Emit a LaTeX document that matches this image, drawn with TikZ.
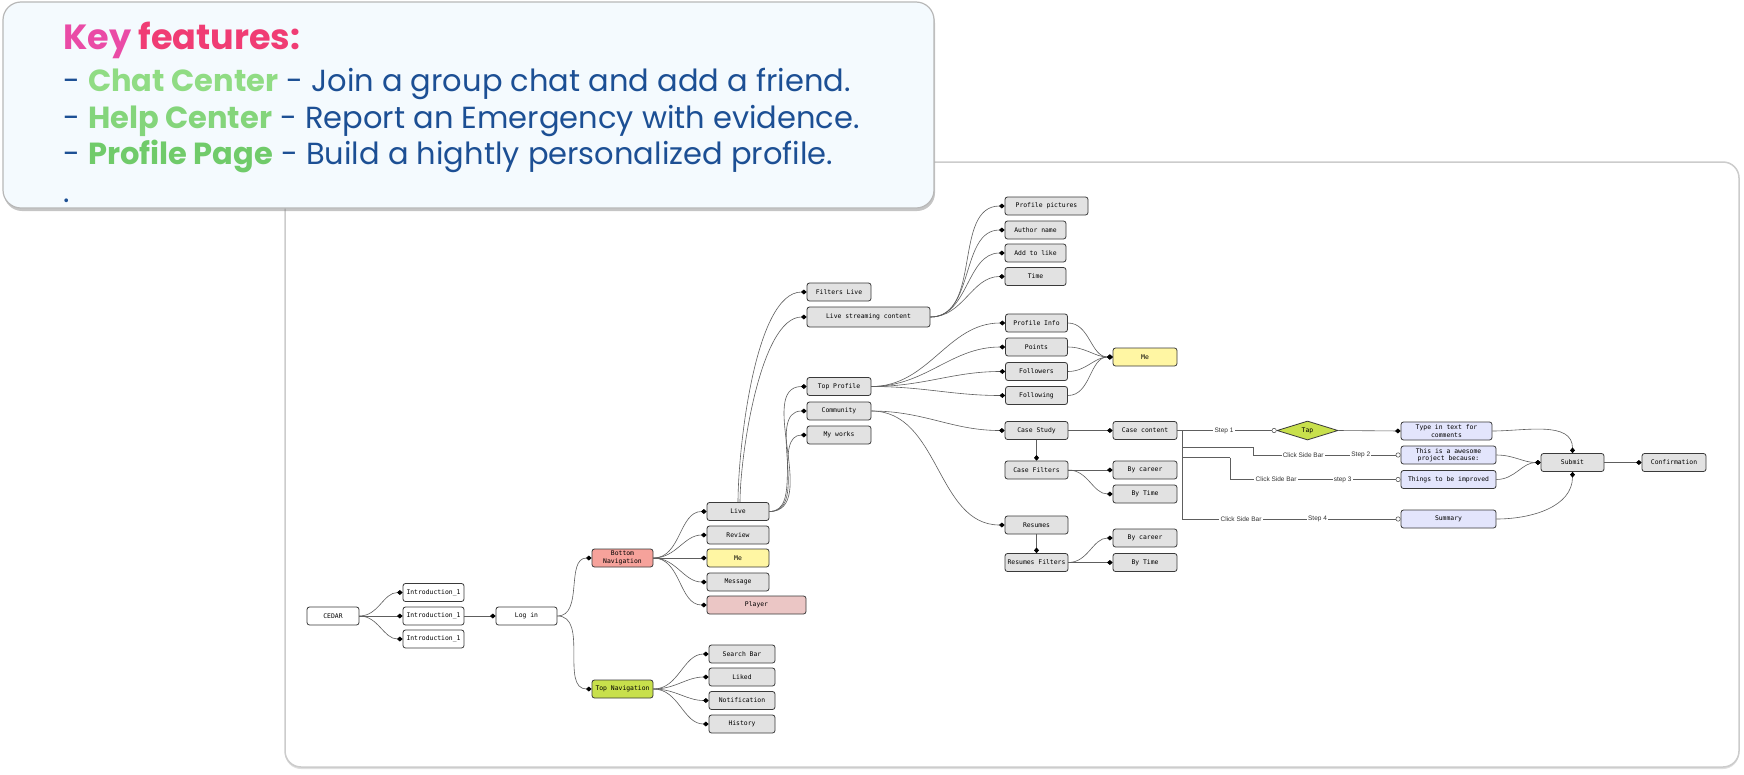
\documentclass[tikz,border=0pt]{standalone}
\usepackage{fontspec}
\setmainfont{Liberation Sans}
\newfontfamily\keyfont{Poppins}
\newfontfamily\boxfont{DejaVu Sans Mono}
\usetikzlibrary{arrows.meta,shapes.geometric,shadows}

\definecolor{boxgray}{HTML}{E2E2E2}
\definecolor{boxline}{HTML}{3A3A3A}
\definecolor{linkgray}{HTML}{5E5E5E}
\definecolor{navred}{HTML}{F6A29B}
\definecolor{navgreen}{HTML}{C8E04C}
\definecolor{meyellow}{HTML}{FFF6A3}
\definecolor{playerpink}{HTML}{EBC6C5}
\definecolor{formblue}{HTML}{E3E5FC}
\definecolor{keybg}{HTML}{F4FAFE}
\definecolor{keyblue}{HTML}{1C4F94}
\definecolor{keypink}{HTML}{EA4BA6}
\definecolor{keyred}{HTML}{F03C74}
\definecolor{chatgreen}{HTML}{90DC84}
\definecolor{helpgreen}{HTML}{84D57B}
\definecolor{profgreen}{HTML}{70CB6A}

\tikzset{
  box/.style={draw=boxline, line width=0.8pt, rounded corners=2.5pt, fill=boxgray,
    minimum width=64pt, minimum height=18pt, inner sep=1pt, align=center,
    font=\boxfont\fontsize{6.4}{7.4}\selectfont},
  link/.style={draw=linkgray, line width=0.6pt, -{Diamond[length=5.5pt,width=5pt,color=black]}},
  openlink/.style={draw=linkgray, line width=0.6pt, -{Circle[open,length=5pt,color=linkgray,fill=white]}},
  steplabel/.style={fill=white, inner sep=1.2pt, text=black!80, font=\fontsize{6.5}{7}\selectfont},
  keyline/.style={anchor=base west, text=keyblue, inner sep=0pt, font=\keyfont\fontsize{30.5}{33}\selectfont}
}

\begin{document}
\begin{tikzpicture}[x=1pt, y=-1pt]
  \useasboundingbox[fill=white] (0,0) rectangle (1744,774);

  % Panel del diagrama
  \draw[draw=black!20, line width=1.5pt, fill=white, rounded corners=16pt,
    drop shadow={shadow xshift=0pt, shadow yshift=-2pt, opacity=0.25}] (285,162) rectangle (1739,767);

  % Cuadro de funciones
  \draw[draw=black!28, line width=1.2pt, fill=keybg, rounded corners=18pt,
    drop shadow={shadow xshift=1pt, shadow yshift=-3pt, opacity=0.45}] (3,2) rectangle (934,208);
  \node[keyline, font=\keyfont\bfseries\fontsize{35}{38}\selectfont] (keyhead) at (63,49)
    {\textcolor{keypink}{Key} \textcolor{keyred}{features:}};
  \node[keyline] (keychat) at (63,91) {- \textcolor{chatgreen}{\bfseries Chat Center} - Join a group chat and add a friend.};
  \node[keyline] (keyhelp) at (63,128) {- \textcolor{helpgreen}{\bfseries Help Center} - Report an Emergency with evidence.};
  \node[keyline] (keyprof) at (63,164.5) {- \textcolor{profgreen}{\bfseries Profile Page} - Build a hightly personalized profile.};
  \node[keyline] (keydot) at (63,202) {.};

  % Inicio
  \node[box, fill=white, minimum width=52pt] (cedar) at (333,616) {CEDAR};
  \node[box, fill=white, minimum width=61pt] (introa) at (433.5,592.5) {Introduction\_1};
  \node[box, fill=white, minimum width=61pt] (introb) at (433.5,616) {Introduction\_1};
  \node[box, fill=white, minimum width=61pt] (introc) at (433.5,639) {Introduction\_1};
  \node[box, fill=white, minimum width=61pt] (login) at (526.5,616) {Log in};

  % Navegacion
  \node[box, fill=navred, minimum width=61pt] (botnav) at (622.5,558) {Bottom\\Navigation};
  \node[box, fill=navgreen, minimum width=61pt] (topnav) at (622.5,689) {Top Navigation};
  \node[box, minimum width=62pt] (live) at (738,511.5) {Live};
  \node[box, minimum width=62pt] (review) at (738,535) {Review};
  \node[box, fill=meyellow, minimum width=62pt] (mebot) at (738,558) {Me};
  \node[box, minimum width=62pt] (message) at (738,582) {Message};
  \node[box, fill=playerpink, minimum width=99pt] (player) at (756.5,605) {Player};
  \node[box, minimum width=66pt] (search) at (742,654) {Search Bar};
  \node[box, minimum width=66pt] (liked) at (742,677) {Liked};
  \node[box, minimum width=66pt] (notif) at (742,700.5) {Notification};
  \node[box, minimum width=66pt] (history) at (742,724) {History};

  % Live
  \node[box] (filtlive) at (839,292) {Filters Live};
  \node[box, minimum width=123pt, minimum height=20pt] (livestream) at (868.5,317) {Live streaming content};
  \node[box, minimum width=83pt] (profpic) at (1046.5,206) {Profile pictures};
  \node[box, minimum width=61pt] (author) at (1035.5,230) {Author name};
  \node[box, minimum width=61pt] (addlike) at (1035.5,253) {Add to like};
  \node[box, minimum width=61pt] (time) at (1035.5,276.5) {Time};

  % Me
  \node[box] (topprof) at (839,386.5) {Top Profile};
  \node[box] (community) at (839,411) {Community};
  \node[box] (myworks) at (839,435) {My works};
  \node[box, minimum width=62pt] (profinfo) at (1036.5,323) {Profile Info};
  \node[box, minimum width=62pt] (points) at (1036.5,347) {Points};
  \node[box, minimum width=62pt] (followers) at (1036.5,371.5) {Followers};
  \node[box, minimum width=62pt] (following) at (1036.5,395.5) {Following};
  \node[box, fill=meyellow] (meright) at (1145,357) {Me};

  % Community
  \node[box, minimum width=63pt] (casestudy) at (1036.5,430.5) {Case Study};
  \node[box, minimum width=63pt] (casefilt) at (1036.5,470) {Case Filters};
  \node[box] (casecont) at (1145,430.5) {Case content};
  \node[box] (careera) at (1145,470) {By career};
  \node[box] (timea) at (1145,494) {By Time};
  \node[box, minimum width=63pt] (resumes) at (1036.5,525) {Resumes};
  \node[box, minimum width=63pt] (resfilt) at (1036.5,562.5) {Resumes Filters};
  \node[box] (careerb) at (1145,538) {By career};
  \node[box] (timeb) at (1145,562.5) {By Time};

  % Comentarios
  \node[box, shape=diamond, rounded corners=0pt, fill=navgreen, aspect=3.2, inner sep=0pt,
    minimum width=61pt, minimum height=19pt] (tap) at (1307.5,430.5) {Tap};
  \node[box, fill=formblue, minimum width=91pt] (typein) at (1446.5,431) {Type in text for\\comments};
  \node[box, fill=formblue, minimum width=95pt] (awesome) at (1448.5,455) {This is a awesome\\project because:};
  \node[box, fill=formblue, minimum width=95pt] (things) at (1448.5,479.5) {Things to be improved};
  \node[box, fill=formblue, minimum width=95pt] (summary) at (1448.5,519) {Summary};
  \node[box, minimum width=63pt] (submit) at (1572.5,462.5) {Submit};
  \node[box] (confirm) at (1674,462.5) {Confirmation};

  \coordinate (bendb) at (1182,447);
  \coordinate (bendbb) at (1253,447);
  \coordinate (bendc) at (1182,457.5);
  \coordinate (bendcc) at (1230,457.5);

  % Conexiones
  \draw[link] (cedar.east) to[out=0,in=180] (introa.west);
  \draw[link] (cedar.east) -- (introb.west);
  \draw[link] (cedar.east) to[out=0,in=180] (introc.west);
  \draw[link] (introb.east) -- (login.west);
  \draw[link] (login.east) to[out=0,in=180] (botnav.west);
  \draw[link] (login.east) to[out=0,in=180] (topnav.west);

  \foreach \dst in {live,review,mebot,message,player}
    \draw[link] (botnav.east) to[out=0,in=180] (\dst.west);
  \foreach \dst in {search,liked,notif,history}
    \draw[link] (topnav.east) to[out=0,in=180] (\dst.west);

  \draw[link] (live.north) to[out=90,in=180,looseness=0.6] (filtlive.west);
  \draw[link] ([xshift=2pt]live.north) to[out=90,in=180,looseness=0.6] (livestream.west);
  \foreach \dst in {topprof,community,myworks}
    \draw[link] (live.east) to[out=0,in=180] (\dst.west);

  \foreach \dst in {profpic,author,addlike,time}
    \draw[link] (livestream.east) to[out=0,in=180] (\dst.west);
  \foreach \dst in {profinfo,points,followers,following}
    \draw[link] (topprof.east) to[out=0,in=180] (\dst.west);
  \foreach \src in {profinfo,points,followers,following}
    \draw[link] (\src.east) to[out=0,in=180] (meright.west);

  \draw[link] (community.east) to[out=0,in=180] (casestudy.west);
  \draw[link] (community.east) to[out=0,in=180] (resumes.west);
  \draw[link] (casestudy.east) -- (casecont.west);
  \draw[link] (casestudy.south) -- (casefilt.north);
  \draw[link] (casefilt.east) -- (careera.west);
  \draw[link] (casefilt.east) to[out=0,in=180] (timea.west);
  \draw[link] (resumes.south) -- (resfilt.north);
  \draw[link] (resfilt.east) to[out=0,in=180] (careerb.west);
  \draw[link] (resfilt.east) -- (timeb.west);

  % Pasos
  \draw[openlink] (casecont.east) -- node[steplabel, pos=0.47] {Step 1} (tap.west);
  \draw[link] (tap.east) -- (typein.west);
  \draw[linkgray, line width=0.6pt] (casecont.east) -| (bendb) -- (bendbb);
  \draw[openlink] (bendbb) -- (bendbb |- awesome.west) -- node[steplabel, pos=0.34] {Click Side Bar}
    node[steplabel, pos=0.73] {Step 2} (awesome.west);
  \draw[linkgray, line width=0.6pt] (bendb) -- (bendc) -- (bendcc);
  \draw[openlink] (bendcc) -- (bendcc |- things.west) -- node[steplabel, pos=0.27] {Click Side Bar}
    node[steplabel, pos=0.66] {step 3} (things.west);
  \draw[openlink] (bendc) -- (bendc |- summary.west) -- node[steplabel, pos=0.27] {Click Side Bar}
    node[steplabel, pos=0.62] {Step 4} (summary.west);

  \draw[link] (typein.east) to[out=0,in=90] (submit.north);
  \draw[link] (awesome.east) to[out=0,in=180] (submit.west);
  \draw[link] (things.east) to[out=0,in=180] (submit.west);
  \draw[link] (summary.east) to[out=0,in=-90] (submit.south);
  \draw[link] (submit.east) -- (confirm.west);
\end{tikzpicture}
\end{document}
